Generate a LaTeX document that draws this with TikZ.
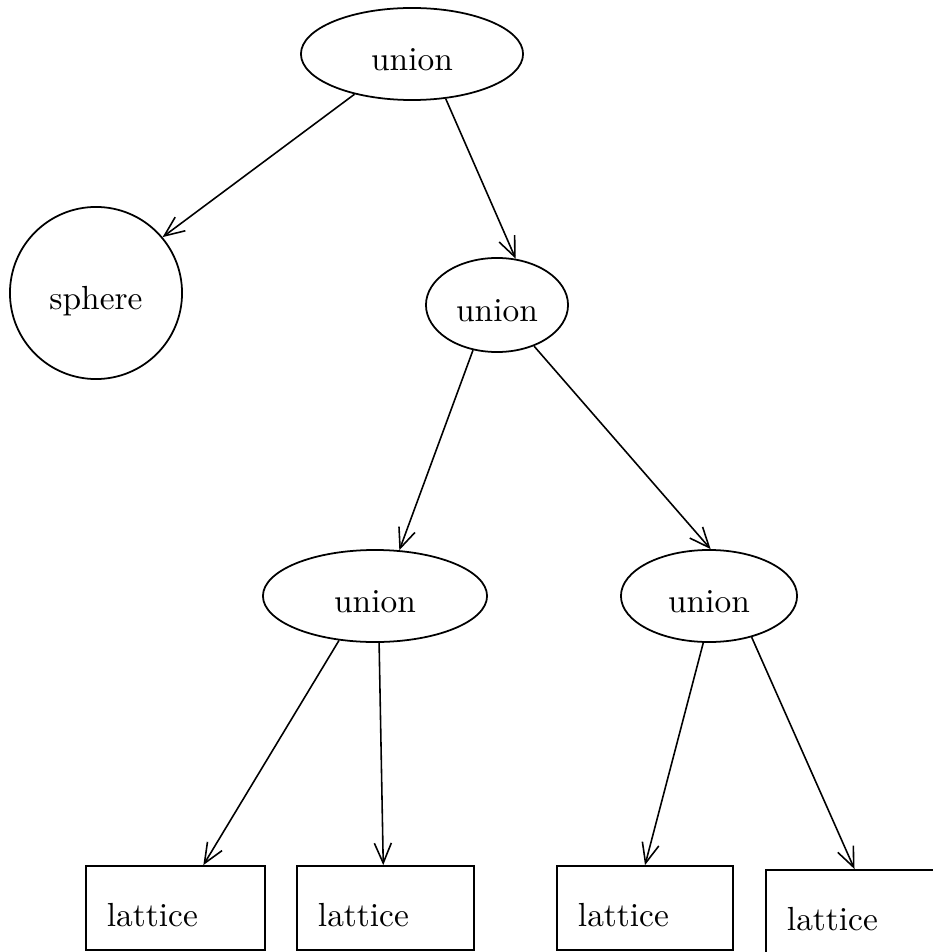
\documentclass[tikz,border=0pt]{standalone}
\usetikzlibrary{shapes.geometric,arrows.meta}
\begin{document}
\begin{tikzpicture}[x=0.01cm,y=-0.01cm,
  font=\fontsize{9.5}{11}\selectfont,
  oval/.style={draw,ellipse,line width=0.5pt,inner sep=0pt,text height=0.33cm,text depth=0pt},
  ball/.style={draw,circle,line width=0.5pt,inner sep=0pt,minimum size=1.72cm,text height=0.33cm,text depth=0pt},
  box/.style={draw,rectangle,line width=0.5pt,inner xsep=0.21cm,inner ysep=0.21cm,
    text width=1.37cm,align=left,text height=0.39cm,text depth=0.03cm},
  link/.style={-{Straight Barb[length=2mm,width=1.7mm]},line width=0.45pt}]
  \useasboundingbox (0,0) rectangle (932,952);
  \node[oval,minimum width=2.22cm,minimum height=0.92cm] (u0) at (412,54) {union};
  \node[ball] (sph) at (96,293) {sphere};
  \node[oval,minimum width=1.42cm,minimum height=0.94cm] (u1) at (497,305) {union};
  \node[oval,minimum width=2.24cm,minimum height=0.92cm] (u2) at (375,596) {union};
  \node[oval,minimum width=1.76cm,minimum height=0.92cm] (u3) at (709,596) {union};
  \node[box] (lat1) at (175.5,908) {lattice};
  \node[box,text width=1.35cm] (lat2) at (385.5,908) {lattice};
  \node[box,text width=1.34cm] (lat3) at (645,908) {lattice};
  \node[box,text width=1.35cm] (lat4) at (854.5,912) {lattice};
  \draw[link] (u0.215) -- (sph.40);
  \draw[link] (u0.307) -- (u1.68);
  \draw[link] (u1.242) -- (u2.62);
  \draw[link] (u1.312) -- (u3.88);
  \draw[link] (u2.231) -- (lat1.57);
  \draw[link] (u2.275) -- (lat2.93);
  \draw[link] (u3.263) -- (lat3.north);
  \draw[link] (u3.316) -- (lat4.north);
\end{tikzpicture}
\end{document}
